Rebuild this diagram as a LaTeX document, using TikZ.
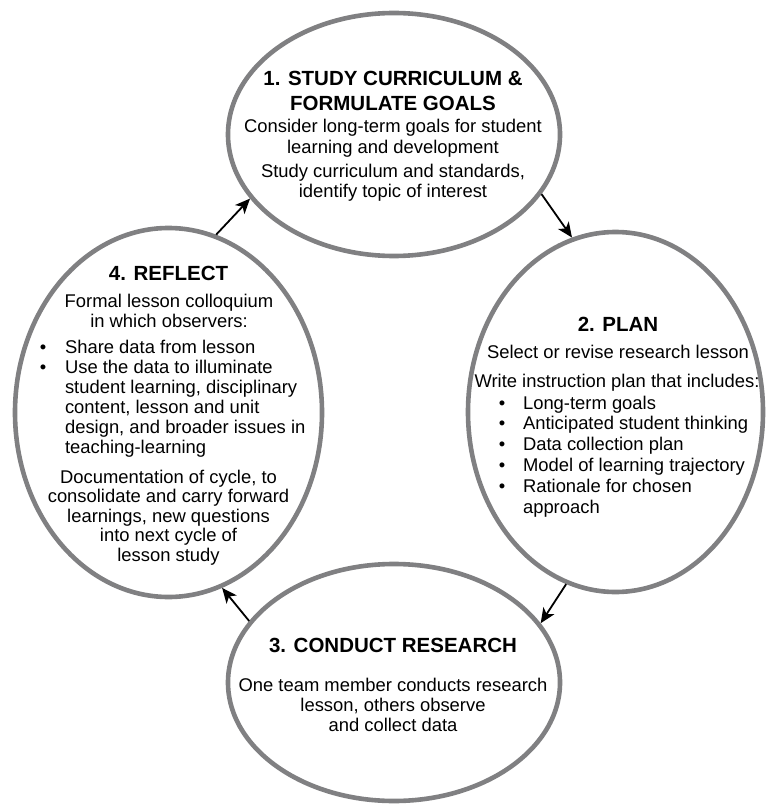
\documentclass[tikz,border=0pt]{standalone}
\usepackage{fontspec}
\setmainfont{Liberation Sans}
\usetikzlibrary{shapes.geometric,arrows.meta}
\definecolor{ringgray}{RGB}{128,128,130}

% centred block of lines; #1 = line spacing, #2 = lines
\newcommand{\txtblock}[2]{\fontsize{18.4}{#1}\selectfont\begin{tabular}[t]{@{}c@{}}#2\end{tabular}}
% bold heading block
\newcommand{\headblock}[2]{\fontsize{20.5}{#1}\selectfont\bfseries\begin{tabular}[t]{@{}c@{}}#2\end{tabular}}
% bulleted list; #1 = line spacing, #2 = gap after bullet, #3 = rows
\newcommand{\bulletblock}[3]{\fontsize{18.4}{#1}\selectfont\begin{tabular}[t]{@{}c@{\hspace{#2}}l@{}}#3\end{tabular}}
\newcommand{\bul}{\textbullet}

\begin{document}
\begin{tikzpicture}[x=1pt,y=-1pt,
  ring/.style={ellipse, draw=ringgray, line width=4.6pt, inner sep=0pt},
  label/.style={inner sep=0pt, outer sep=0pt, anchor=base},
  listnode/.style={inner sep=0pt, outer sep=0pt, anchor=base west},
  flow/.style={-{Stealth[length=15pt,width=13pt,inset=4pt]}, line width=1.8pt, black}]

\fill[white] (0,0) rectangle (765,805);
\useasboundingbox (0,0) rectangle (765,805);

% the four stages
\node[ring, minimum width=332pt, minimum height=243pt] (s1) at (394,134.5) {};
\node[ring, minimum width=295pt, minimum height=360pt] (s2) at (615.5,412) {};
\node[ring, minimum width=332pt, minimum height=237pt] (s3) at (394,682.5) {};
\node[ring, minimum width=307pt, minimum height=369pt] (s4) at (168.5,412.5) {};

% stage 1
\node[label] (h1) at (393,86) {\headblock{25pt}{1. STUDY CURRICULUM \&\\FORMULATE GOALS}};
\node[label] (a1) at (393,133) {\txtblock{21pt}{Consider long-term goals for student\\learning and development}};
\node[label] (b1) at (393,177.5) {\txtblock{20pt}{Study curriculum and standards,\\identify topic of interest}};

% stage 2
\node[label] (h2) at (618,331) {\headblock{25pt}{2. PLAN}};
\node[label] (a2) at (618,358) {\txtblock{20pt}{Select or revise research lesson}};
\node[label] (b2) at (617,387) {\txtblock{20pt}{Write instruction plan that includes:}};
\node[listnode] (l2) at (498.8,409) {\bulletblock{20.8pt}{17.8pt}{%
  \bul & Long-term goals\\
  \bul & Anticipated student thinking\\
  \bul & Data collection plan\\
  \bul & Model of learning trajectory\\
  \bul & Rationale for chosen\\
       & approach}};

% stage 3
\node[label] (h3) at (393,652) {\headblock{25pt}{3. CONDUCT RESEARCH}};
\node[label] (a3) at (393,691) {\txtblock{20pt}{One team member conducts research\\lesson, others observe\\and collect data}};

% stage 4
\node[label] (h4) at (168.5,280) {\headblock{25pt}{4. REFLECT}};
\node[label] (a4) at (169,307) {\txtblock{20pt}{Formal lesson colloquium\\in which observers:}};
\node[listnode] (l4) at (39.8,353) {\bulletblock{20.1pt}{18.8pt}{%
  \bul & Share data from lesson\\
  \bul & Use the data to illuminate\\
       & student learning, disciplinary\\
       & content, lesson and unit\\
       & design, and broader issues in\\
       & teaching-learning}};
\node[label] (b4) at (168.5,483) {\txtblock{19.6pt}{Documentation of cycle, to\\consolidate and carry forward\\learnings, new questions\\into next cycle of\\lesson study}};

% cycle arrows
\draw[flow] (s1.-22) -- (s2.104);
\draw[flow] (s2.-106) -- (s3.22);
\draw[flow] (s3.157) -- (s4.-73);
\draw[flow] (s4.75) -- (s1.-156);
\end{tikzpicture}
\end{document}
